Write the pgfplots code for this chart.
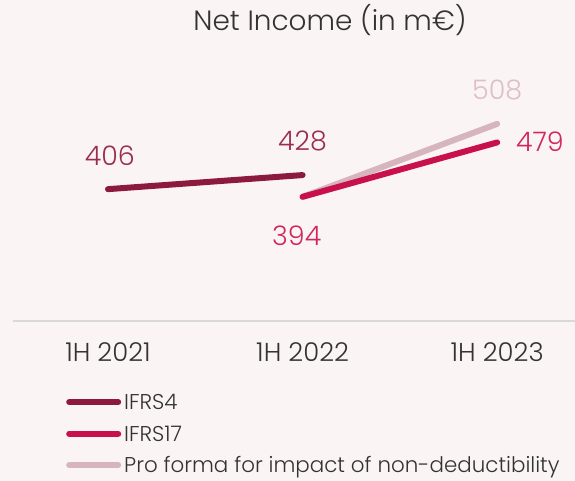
\documentclass[border=0pt]{standalone}
\usepackage{fontspec}
\setmainfont{Poppins}[UprightFont=* Light]
\usepackage{pgfplots}
\pgfplotsset{compat=1.18}
\definecolor{bg}{HTML}{FBF4F4}
\definecolor{ifrsfour}{HTML}{8C1A3F}
\definecolor{ifrsseventeen}{HTML}{C8104A}
\definecolor{proforma}{HTML}{D6B5BE}
\definecolor{lblfour}{HTML}{9B2D52}
\definecolor{lblseventeen}{HTML}{D0285A}
\definecolor{lblpro}{HTML}{DDBFC6}
\definecolor{txt}{HTML}{333333}
\definecolor{axisgray}{HTML}{D9D9D9}
\begin{document}
\begin{tikzpicture}[x=1bp,y=1bp]
\useasboundingbox (0,0) rectangle (575,481);
\fill[bg] (0,0) rectangle (575,481);
\node[text=txt, font=\fontsize{28}{33}\selectfont] at (330,461) {Net Income (in m€)};
\begin{axis}[
  at={(13bp,160bp)}, anchor=south west,
  scale only axis, width=562bp, height=256bp,
  xmin=-0.488, xmax=2.40, ymin=200, ymax=600,
  enlargelimits=false,
  hide axis,
  clip=false,
  legend style={at={(0.0943,-0.279)}, anchor=north west, draw=none, fill=none,
    font=\fontsize{21.5}{26}\selectfont, text=txt, row sep=12.5bp, column sep=3bp,
    inner sep=0pt, nodes={inner sep=0pt, text height=17bp, text depth=2bp}},
  legend cell align=left,
]
\addplot[ifrsfour, line width=6bp, line cap=round,
  legend image code/.code={\draw[ifrsfour, line width=6bp, line cap=round] (0bp,0bp) -- (49bp,0bp);}]
  coordinates {(0,406) (1,428)};
\addlegendentry{IFRS4}
\addplot[proforma, line width=6bp, line cap=round, forget plot]
  coordinates {(1,394) (2,508)};
\addplot[ifrsseventeen, line width=6bp, line cap=round,
  legend image code/.code={\draw[ifrsseventeen, line width=6bp, line cap=round] (0bp,0bp) -- (49bp,0bp);}]
  coordinates {(1,394) (2,479)};
\addlegendentry{IFRS17}
\addlegendimage{proforma, line width=6bp, line cap=round,
  legend image code/.code={\draw[proforma, line width=6bp, line cap=round] (0bp,0bp) -- (49bp,0bp);}}
\addlegendentry{Pro forma for impact of non-deductibility}
\draw[axisgray, line width=2bp] (axis cs:-0.488,200) -- (axis cs:2.40,200);
\node[text=txt, font=\fontsize{26}{30}\selectfont] at (axis cs:0,151) {1H 2021};
\node[text=txt, font=\fontsize{26}{30}\selectfont] at (axis cs:1,151) {1H 2022};
\node[text=txt, font=\fontsize{26}{30}\selectfont] at (axis cs:2,151) {1H 2023};
\node[text=lblfour, font=\fontsize{27}{32}\selectfont] at (axis cs:0.01,459) {406};
\node[text=lblfour, font=\fontsize{27}{32}\selectfont] at (axis cs:1.0,481) {428};
\node[text=lblseventeen, font=\fontsize{27}{32}\selectfont] at (axis cs:0.97,333) {394};
\node[text=lblseventeen, font=\fontsize{27}{32}\selectfont] at (axis cs:2.22,480) {479};
\node[text=lblpro, font=\fontsize{27}{32}\selectfont] at (axis cs:2.0,561) {508};
\end{axis}
\end{tikzpicture}
\end{document}
